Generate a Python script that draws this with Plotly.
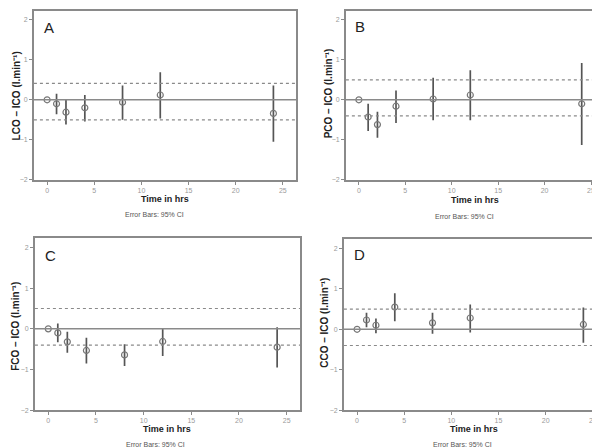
import plotly.graph_objects as go

time_hrs = [0, 1, 2, 4, 8, 12, 24]
x_ticks = [0, 5, 10, 15, 20, 25]
y_ticks = [-2, -1, 0, 1, 2]

panel_letters = ["A", "B", "C", "D"]
y_titles = ["LCO \u2013 ICO (l.min\u207b\u00b9)", "PCO \u2013 ICO (l.min\u207b\u00b9)",
            "FCO \u2013 ICO (l.min\u207b\u00b9)", "CCO \u2013 ICO (l.min\u207b\u00b9)"]

A_mean = [0, -0.10, -0.31, -0.20, -0.06, 0.12, -0.34]
A_lo = [0, -0.36, -0.62, -0.54, -0.50, -0.47, -1.05]
A_hi = [0, 0.15, 0.00, 0.12, 0.36, 0.69, 0.36]
A_limits = [0.41, -0.50]

B_mean = [0, -0.43, -0.62, -0.16, 0.02, 0.12, -0.10]
B_lo = [0, -0.78, -0.95, -0.58, -0.51, -0.51, -1.13]
B_hi = [0, -0.10, -0.30, 0.23, 0.55, 0.74, 0.92]
B_limits = [0.50, -0.40]

C_mean = [0, -0.10, -0.32, -0.53, -0.64, -0.31, -0.45]
C_lo = [0, -0.33, -0.59, -0.85, -0.91, -0.67, -0.95]
C_hi = [0, 0.13, -0.07, -0.22, -0.38, 0.02, 0.04]
C_limits = [0.50, -0.40]

D_mean = [0, 0.23, 0.10, 0.55, 0.16, 0.28, 0.12]
D_lo = [0, 0.05, -0.10, 0.20, -0.11, -0.08, -0.33]
D_hi = [0, 0.41, 0.27, 0.89, 0.41, 0.61, 0.54]
D_limits = [0.50, -0.40]

means = [A_mean, B_mean, C_mean, D_mean]
los = [A_lo, B_lo, C_lo, D_lo]
his = [A_hi, B_hi, C_hi, D_hi]
limits = [A_limits, B_limits, C_limits, D_limits]

W, H = 600, 447
# plot boxes in pixels: left, right, top, bottom
boxes = [(26, 289, 3, 173), (339, 598, 3, 173), (27, 293, 232, 405), (337, 600, 233, 405)]
letter_pos = [(41, 20), (353, 19), (43, 249), (353, 248)]
ytitle_pos = [(8, 88), (321, 86), (8, 320), (318, 317)]
xtitle_pos = [(158, 192), (469, 193), (160, 424), (468, 424)]
foot_pos = [(147, 208), (458, 210), (148, 439), (456, 439)]

fig = go.Figure()
axis_color = "#8a8a8a"
tick_font = dict(family="Liberation Sans, Arial", size=7, color="#9a9a9a")

for i in range(4):
    n = "" if i == 0 else str(i + 1)
    xa, ya = "x" + n, "y" + n
    l, r, t, b = boxes[i]
    fig.update_layout(**{
        "xaxis" + n: dict(domain=[l / W, r / W], range=[-1.4, 26.4], anchor=ya,
                          tickvals=x_ticks, ticks="outside", ticklen=3, tickcolor=axis_color,
                          showline=True, linecolor=axis_color, linewidth=1.5, mirror=True,
                          showgrid=False, zeroline=False, tickfont=tick_font, fixedrange=True),
        "yaxis" + n: dict(domain=[1 - b / H, 1 - t / H], range=[-2, 2.22], anchor=xa,
                          tickvals=y_ticks, ticks="outside", ticklen=3, tickcolor=axis_color,
                          showline=True, linecolor=axis_color, linewidth=1.5, mirror=True,
                          showgrid=False, zeroline=False, tickfont=tick_font, fixedrange=True),
    })
    # zero line and limits of agreement
    fig.add_shape(type="line", xref=xa + " domain", yref=ya, x0=0, x1=1, y0=0, y1=0,
                  line=dict(color="#8a8a8a", width=1.5))
    for lim in limits[i]:
        fig.add_shape(type="line", xref=xa + " domain", yref=ya, x0=0, x1=1, y0=lim, y1=lim,
                      line=dict(color="#8a8a8a", width=1.2, dash="dot"))
    m = means[i]
    plus = [h - v for h, v in zip(his[i], m)]
    minus = [v - lo for v, lo in zip(m, los[i])]
    fig.add_trace(go.Scatter(
        x=time_hrs, y=m, mode="markers", xaxis=xa, yaxis=ya, showlegend=False,
        marker=dict(symbol="circle-open", size=6, color="#777777", line=dict(width=1.2)),
        error_y=dict(type="data", symmetric=False, array=plus, arrayminus=minus,
                     width=0, thickness=1.7, color="#555555"),
    ))
    # annotations
    lx, ly = letter_pos[i]
    fig.add_annotation(x=lx / W, y=1 - ly / H, xref="paper", yref="paper", text=panel_letters[i],
                       showarrow=False, font=dict(family="Liberation Sans, Arial", size=15, color="#222"),
                       xanchor="center", yanchor="middle")
    tx, ty = ytitle_pos[i]
    fig.add_annotation(x=tx / W, y=1 - ty / H, xref="paper", yref="paper", text=y_titles[i],
                       showarrow=False, textangle=-90,
                       font=dict(family="Liberation Sans, Arial", size=10, color="#222", weight="bold"),
                       xanchor="center", yanchor="middle")
    xx, xy = xtitle_pos[i]
    fig.add_annotation(x=xx / W, y=1 - xy / H, xref="paper", yref="paper", text="Time in hrs",
                       showarrow=False,
                       font=dict(family="Liberation Sans, Arial", size=9, color="#222", weight="bold"),
                       xanchor="center", yanchor="middle")
    fx, fy = foot_pos[i]
    fig.add_annotation(x=fx / W, y=1 - fy / H, xref="paper", yref="paper", text="Error Bars: 95% CI",
                       showarrow=False, font=dict(family="Liberation Sans, Arial", size=7, color="#555"),
                       xanchor="center", yanchor="middle")

fig.update_layout(width=W, height=H, margin=dict(l=0, r=0, t=0, b=0),
                  paper_bgcolor="white", plot_bgcolor="white", showlegend=False)
fig.write_html("out.html")
